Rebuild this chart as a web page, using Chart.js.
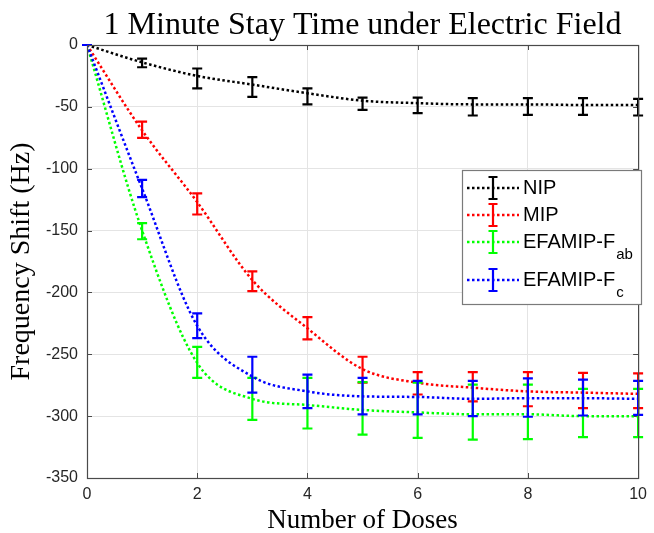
<!DOCTYPE html>
<html>
<head>
<meta charset="utf-8">
<style>
  html, body { margin: 0; padding: 0; background: #fff; }
  canvas { display: block; }
</style>
<script src="https://cdn.jsdelivr.net/npm/chart.js@4/dist/chart.umd.min.js"></script>
</head>
<body>
<canvas id="c" width="654" height="533"></canvas>
<script>
// ---- data ----
const doses = [0, 1, 2, 3, 4, 5, 6, 7, 8, 9, 10];
const xTicks = [0, 2, 4, 6, 8, 10];
const yTicks = [-350, -300, -250, -200, -150, -100, -50, 0];

const seriesNames = ['NIP', 'MIP', 'EFAMIP-F', 'EFAMIP-F'];
const seriesSubs  = ['', '', 'ab', 'c'];

const nipLine = [0, -14, -25, -32, -39, -45, -47, -48, -48, -48.5, -48.5];
const nipHigh = [0, -11, -19, -26, -35, -42.5, -42.5, -43, -43, -43, -43.5];
const nipLow  = [0, -18, -35, -42, -48, -52.5, -55, -57, -56.5, -56.5, -57];

const mipLine = [0, -69, -127, -190, -229, -262, -273, -277, -280, -281, -282];
const mipHigh = [0, -62, -120, -183, -220, -252, -264.5, -264.5, -264.5, -265, -265.5];
const mipLow  = [0, -75, -137, -199, -238, -273, -282.5, -288, -292, -293.5, -293.5];

const fabLine = [0, -150, -257, -286, -291, -295, -297, -298.5, -298.5, -300, -300];
const fabHigh = [0, -144, -244, -269, -269, -272.5, -273, -274.5, -274.5, -278, -278];
const fabLow  = [0, -157, -269, -303, -310, -315, -317.5, -319, -318.5, -317, -317];

const fcLine = [0, -116, -227, -268, -280, -284, -284.5, -286, -285.5, -285.5, -286];
const fcHigh = [0, -109, -217, -252, -266.5, -269, -271.5, -271.5, -269.5, -270.5, -271.5];
const fcLow  = [0, -123, -237, -281, -293.5, -298.5, -298.5, -300, -300.5, -299.5, -299];

const colors = ['#000000', '#ff0000', '#00ff00', '#0000ff'];
const lines = [nipLine, mipLine, fabLine, fcLine];
const highs = [nipHigh, mipHigh, fabHigh, fcHigh];
const lows  = [nipLow, mipLow, fabLow, fcLow];

const titleText = '1 Minute Stay Time under Electric Field';
const xTitle = 'Number of Doses';
const yTitle = 'Frequency Shift (Hz)';

// ---- drawing ----
const SERIF = '"Liberation Serif", "Times New Roman", serif';
const SANS = '"Liberation Sans", Arial, sans-serif';

function drawErrorBar(ctx, x, yTop, yBot, color, half) {
  ctx.save();
  ctx.strokeStyle = color;
  ctx.lineWidth = 2.2;
  ctx.setLineDash([]);
  ctx.beginPath();
  ctx.moveTo(x, yTop); ctx.lineTo(x, yBot);
  ctx.moveTo(x - half, yTop); ctx.lineTo(x + half, yTop);
  ctx.moveTo(x - half, yBot); ctx.lineTo(x + half, yBot);
  ctx.stroke();
  ctx.restore();
}

const errorBarPlugin = {
  id: 'errorBars',
  afterDatasetDraw(chart, args) {
    const i = args.index;
    const xs = chart.scales.x, ys = chart.scales.y;
    const ctx = chart.ctx;
    ctx.save();
    const a = chart.chartArea;
    ctx.beginPath();
    ctx.rect(a.left - 6, a.top - 6, a.right - a.left + 12, a.bottom - a.top + 12);
    ctx.clip();
    for (let k = 0; k < doses.length; k++) {
      const x = xs.getPixelForValue(doses[k]);
      const yt = ys.getPixelForValue(highs[i][k]);
      const yb = ys.getPixelForValue(lows[i][k]);
      drawErrorBar(ctx, x, yt, yb, colors[i], 5);
    }
    ctx.restore();
  }
};

const framePlugin = {
  id: 'frame',
  beforeDatasetsDraw(chart) {
    const ctx = chart.ctx, a = chart.chartArea;
    const xs = chart.scales.x, ys = chart.scales.y;
    ctx.save();
    ctx.strokeStyle = '#4a4a4a';
    ctx.lineWidth = 1;
    // inward tick marks
    ctx.beginPath();
    xTicks.forEach(v => {
      const x = Math.round(xs.getPixelForValue(v)) + 0.5;
      ctx.moveTo(x, a.bottom); ctx.lineTo(x, a.bottom - 5);
      ctx.moveTo(x, a.top); ctx.lineTo(x, a.top + 5);
    });
    yTicks.forEach(v => {
      const y = Math.round(ys.getPixelForValue(v)) + 0.5;
      ctx.moveTo(a.left, y); ctx.lineTo(a.left + 5, y);
      ctx.moveTo(a.right, y); ctx.lineTo(a.right - 5, y);
    });
    ctx.stroke();
    ctx.restore();
  },
  afterDraw(chart) {
    const ctx = chart.ctx, a = chart.chartArea;
    ctx.save();
    // box
    ctx.strokeStyle = '#4a4a4a';
    ctx.lineWidth = 1.2;
    ctx.strokeRect(a.left + 0.5, a.top + 0.5, a.right - a.left, a.bottom - a.top);

    // titles
    ctx.fillStyle = '#000';
    ctx.font = '32px ' + SERIF;
    ctx.textAlign = 'center';
    ctx.textBaseline = 'alphabetic';
    ctx.fillText(titleText, (a.left + a.right) / 2, 34);

    ctx.font = '27px ' + SERIF;
    ctx.fillText(xTitle, (a.left + a.right) / 2, 528);

    ctx.save();
    ctx.font = '28px ' + SERIF;
    ctx.translate(29, (a.top + a.bottom) / 2);
    ctx.rotate(-Math.PI / 2);
    ctx.fillText(yTitle, 0, 0);
    ctx.restore();

    // legend
    const L = 462, T = 170, R = 641, B = 304;
    ctx.fillStyle = '#ffffff';
    ctx.fillRect(L, T, R - L, B - T);
    ctx.strokeStyle = '#7a7a7a';
    ctx.lineWidth = 1.2;
    ctx.strokeRect(L + 0.5, T + 0.5, R - L, B - T);

    const rowsY = [188, 215, 242, 280];
    for (let i = 0; i < seriesNames.length; i++) {
      const y = rowsY[i];
      ctx.save();
      ctx.strokeStyle = colors[i];
      ctx.lineWidth = 2.5;
      ctx.setLineDash([2.5, 2.5]);
      ctx.beginPath();
      ctx.moveTo(467, y); ctx.lineTo(519, y);
      ctx.stroke();
      ctx.restore();
      drawErrorBar(ctx, 493, y - 11, y + 11, colors[i], 4.5);

      ctx.fillStyle = '#000';
      ctx.textAlign = 'left';
      ctx.textBaseline = 'middle';
      ctx.font = '20px ' + SANS;
      ctx.fillText(seriesNames[i], 523, y);
      if (seriesSubs[i]) {
        const w = ctx.measureText(seriesNames[i]).width;
        ctx.font = '15px ' + SANS;
        ctx.fillText(seriesSubs[i], 523 + w + 1, y + 13);
      }
    }
    ctx.restore();
  }
};

const datasets = lines.map((d, i) => ({
  label: seriesNames[i] + seriesSubs[i],
  data: doses.map((x, k) => ({ x: x, y: d[k] })),
  borderColor: colors[i],
  borderWidth: 2.5,
  borderDash: [2.5, 2.5],
  pointRadius: 0,
  fill: false,
  cubicInterpolationMode: 'monotone',
  order: 4 - i
}));

new Chart(document.getElementById('c'), {
  type: 'line',
  data: { datasets: datasets },
  options: {
    responsive: false,
    animation: false,
    devicePixelRatio: 1,
    layout: { padding: { top: 45, right: 12, left: 0, bottom: 0 } },
    plugins: {
      legend: { display: false },
      title: { display: false },
      tooltip: { enabled: false }
    },
    scales: {
      x: {
        type: 'linear',
        min: 0, max: 10,
        afterFit(s) { s.height = 55; },
        afterBuildTicks(s) { s.ticks = xTicks.map(v => ({ value: v })); },
        ticks: {
          font: { family: SANS, size: 16 },
          color: '#262626',
          padding: 7,
          maxRotation: 0
        },
        grid: { color: '#e4e4e4', drawTicks: false, lineWidth: 1 },
        border: { display: true, color: '#4a4a4a' }
      },
      y: {
        type: 'linear',
        min: -350, max: 0,
        afterFit(s) { s.width = 87; },
        afterBuildTicks(s) { s.ticks = yTicks.map(v => ({ value: v })); },
        ticks: {
          font: { family: SANS, size: 16 },
          color: '#262626',
          padding: 9
        },
        grid: { color: '#e4e4e4', drawTicks: false, lineWidth: 1 },
        border: { display: true, color: '#4a4a4a' }
      }
    }
  },
  plugins: [framePlugin, errorBarPlugin]
});
</script>
</body>
</html>
